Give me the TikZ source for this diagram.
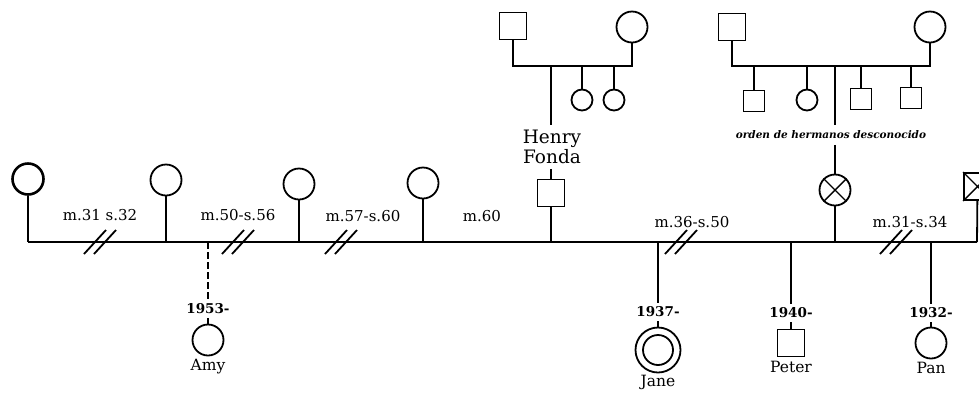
\documentclass[tikz,border=0pt]{standalone}
\usepackage{fontspec}
\setmainfont{DejaVu Serif}
\usetikzlibrary{positioning}

\begin{document}
\begin{tikzpicture}[
  x=1pt, y=-1pt,
  line width=1.8pt,
  fem/.style={draw,circle,minimum size=31pt,inner sep=0pt},
  femsm/.style={fem,minimum size=21pt},
  mal/.style={draw,rectangle,minimum size=27pt,inner sep=0pt},
  malsm/.style={mal,minimum size=21pt},
  lbl/.style={font=\fontsize{15}{17}\selectfont,inner sep=1pt},
  yr/.style={font=\fontsize{13.5}{15}\selectfont\bfseries,inner sep=3pt},
  nm/.style={font=\fontsize{15.5}{17}\selectfont,inner sep=1pt},
  divmark/.pic={\draw (-16,12) -- (6,-12); \draw (-6,12) -- (16,-12);}
]
  \clip (0,0) rectangle (979,392);
  % main line of marriages
  \coordinate (lstart) at (28,242);
  \coordinate (lend) at (977,242);
  \draw (lstart) -- (lend);
  \node[fem,line width=2.6pt] (w0) at (28,179) {};
  \node[fem] (w1) at (166,180) {};
  \node[fem] (w2) at (299,184) {};
  \node[fem] (w3) at (423,183) {};
  \node[mal] (henry) at (551,193) {};
  \node[fem] (fran) at (835,190) {};
  \node[mal] (last) at (977.5,186.5) {};
  \foreach \n/\x in {w0/28,w1/166,w2/299,w3/423,henry/551,fran/835,last/977}{
    \coordinate (j\n) at (\x,242);
    \draw (\n) -- (j\n);
  }
  \draw[line width=1.4pt] (fran.45) -- (fran.225) (fran.135) -- (fran.315);
  \draw[line width=1.4pt] (last.north west) -- (last.south east)
    (last.south west) -- (last.north east);
  \foreach \x in {100,238,341,681,896}
    \pic at (\x,242) {divmark};
  % marriage dates
  \node[lbl] (m1) at (100,215) {m.31 s.32};
  \node[lbl] (m2) at (238,215) {m.50-s.56};
  \node[lbl] (m3) at (363,216) {m.57-s.60};
  \node[lbl] (m4) at (482,216) {m.60};
  \node[lbl] (m5) at (692,222) {m.36-s.50};
  \node[lbl] (m6) at (910,222) {m.31-s.34};
  % children
  \coordinate (camy) at (208,242);
  \node[yr] (y53) at (208,309) {1953-};
  \node[fem] (amy) at (208,340) {};
  \node[nm,below=1pt of amy] (namy) {Amy};
  \draw[dash pattern=on 7pt off 3pt] (camy) -- (y53);
  \draw (y53) -- (amy);
  \coordinate (cjane) at (658,242);
  \node[yr] (y37) at (658,312) {1937-};
  \node[fem,minimum size=45pt] (jane) at (658,350) {};
  \node[fem,minimum size=30pt] (janein) at (jane) {};
  \node[nm,below=0pt of jane] (njane) {Jane};
  \draw (cjane) -- (y37) -- (jane);
  \coordinate (cpeter) at (791,242);
  \node[yr] (y40) at (791,313) {1940-};
  \node[mal] (peter) at (791,343) {};
  \node[nm,below=2pt of peter] (npeter) {Peter};
  \draw (cpeter) -- (y40) -- (peter);
  \coordinate (cpan) at (931,242);
  \node[yr] (y32) at (931,313) {1932-};
  \node[fem] (pan) at (931,343) {};
  \node[nm,below=1pt of pan] (npan) {Pan};
  \draw (cpan) -- (y32) -- (pan);
  % Henry's parents and sisters
  \node[mal] (hfa) at (513,26) {};
  \node[fem] (hmo) at (632,27) {};
  \coordinate (hsa) at (513,66);
  \coordinate (hsb) at (632,66);
  \draw (hfa) -- (hsa) -- (hsb) -- (hmo);
  \node[femsm] (hs1) at (582,100) {};
  \node[femsm] (hs2) at (614,100) {};
  \coordinate (hk1) at (582,66);
  \coordinate (hk2) at (614,66);
  \draw (hk1) -- (hs1);
  \draw (hk2) -- (hs2);
  \coordinate (hk0) at (551,66);
  \node[font=\fontsize{18.5}{20}\selectfont,align=center,inner sep=4pt] (htxt) at (552,147) {Henry\\Fonda};
  \draw (hk0) -- (hk0 |- htxt.north);
  \draw (hk0 |- htxt.south) -- (henry);
  % parents and siblings of the last wife
  \node[mal] (rfa) at (732,27) {};
  \node[fem] (rmo) at (930,27) {};
  \coordinate (rsa) at (732,66);
  \coordinate (rsb) at (930,66);
  \draw (rfa) -- (rsa) -- (rsb) -- (rmo);
  \node[malsm] (rk1) at (754,101) {};
  \node[femsm] (rk2) at (807,100) {};
  \node[malsm] (rk3) at (861,99) {};
  \node[malsm] (rk4) at (911,98) {};
  \foreach \k/\x in {1/754,2/807,3/861,4/911}{
    \coordinate (rc\k) at (\x,66);
    \draw (rc\k) -- (rk\k);
  }
  \coordinate (rc0) at (835,66);
  \node[font=\fontsize{10.5}{12}\selectfont\bfseries\itshape,inner sep=5pt] (ord) at (831,135) {orden de hermanos desconocido};
  \draw (rc0) -- (rc0 |- ord.north);
  \draw (rc0 |- ord.south) -- (fran);
\end{tikzpicture}
\end{document}
